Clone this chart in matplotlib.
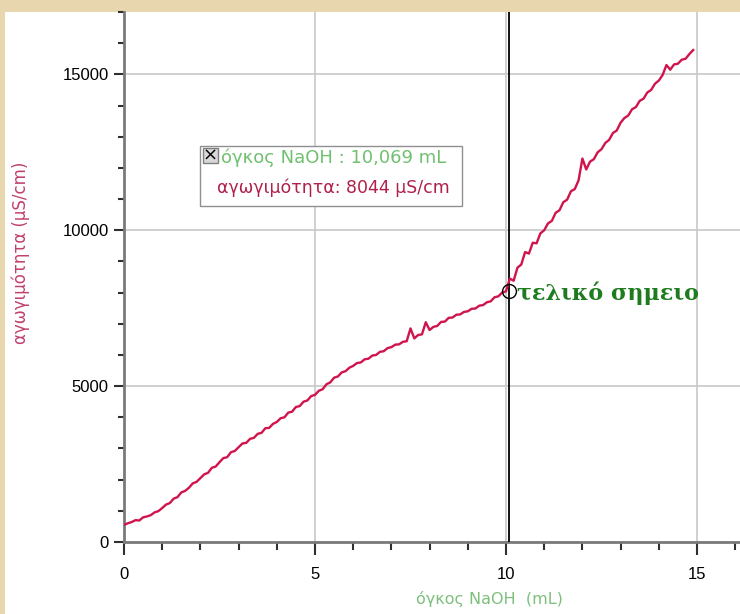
"""Conductometric titration curve: conductivity vs volume of NaOH."""

import matplotlib

matplotlib.use("Agg")
import matplotlib.pyplot as plt
import numpy as np
from matplotlib.patches import Rectangle
from matplotlib.ticker import MultipleLocator

# conductivity readings (uS/cm), one every 0.1 mL from 0.0 to 14.9 mL
conductivity = [
    550, 600, 640, 700, 690, 790, 820, 860, 950, 990,
    1090, 1200, 1250, 1390, 1440, 1590, 1640, 1740, 1880, 1930,
    2050, 2170, 2220, 2380, 2420, 2560, 2690, 2720, 2880, 2920,
    3040, 3160, 3180, 3310, 3340, 3470, 3500, 3650, 3660, 3790,
    3850, 3970, 4000, 4150, 4180, 4330, 4360, 4500, 4540, 4680,
    4720, 4850, 4900, 5060, 5120, 5270, 5310, 5440, 5480, 5590,
    5650, 5740, 5760, 5860, 5880, 5980, 6000, 6100, 6120, 6220,
    6250, 6330, 6340, 6420, 6440, 6850, 6530, 6640, 6660, 7050,
    6800, 6900, 6930, 7060, 7070, 7190, 7200, 7290, 7300, 7380,
    7400, 7480, 7490, 7580, 7600, 7690, 7720, 7850, 7880, 8000,
    8040, 8450, 8380, 8800, 8900, 9300, 9250, 9600, 9580, 9900,
    10000, 10220, 10300, 10560, 10640, 10900, 10980, 11250, 11320, 11600,
    12300, 11950, 12200, 12280, 12500, 12600, 12800, 12900, 13120, 13200,
    13450, 13600, 13680, 13880, 13950, 14150, 14220, 14420, 14500, 14700,
    14800, 14980, 15300, 15150, 15320, 15340, 15470, 15500, 15650, 15780,
]
volume = np.arange(len(conductivity)) * 0.1

end_volume = 10.069
end_cond = 8044

x_ticks = [0, 5, 10, 15]
y_ticks = [0, 5000, 10000, 15000]

W, H = 740, 614
fig = plt.figure(figsize=(W / 100, H / 100), dpi=100)
fig.patch.set_facecolor("#e8d6ae")

# white panel behind the graph
bg = fig.add_axes([5 / W, 0, 735 / W, 602 / H], zorder=-1)
bg.set_facecolor("white")
bg.set_xticks([])
bg.set_yticks([])
for s in bg.spines.values():
    s.set_visible(False)

ax = fig.add_axes([124 / W, 72 / H, 616 / W, 530 / H])
ax.patch.set_alpha(0)
ax.set_xlim(0, 616 / 38.2)
ax.set_ylim(0, 17000)

for s in ("top", "right"):
    ax.spines[s].set_visible(False)
for s in ("left", "bottom"):
    ax.spines[s].set_color("#7a7a7a")
    ax.spines[s].set_linewidth(2)

ax.set_xticks(x_ticks)
ax.set_yticks(y_ticks)
ax.xaxis.set_minor_locator(MultipleLocator(1))
ax.yaxis.set_minor_locator(MultipleLocator(1000))
ax.tick_params(which="major", length=7, width=1.5, color="#303030",
               labelsize=12, pad=4)
ax.tick_params(which="minor", length=4, width=1.5, color="#303030")
ax.tick_params(axis="x", which="major", length=9, pad=9)
ax.tick_params(axis="x", which="minor", length=6)
for lab in ax.get_xticklabels() + ax.get_yticklabels():
    lab.set_fontfamily("Liberation Sans")

ax.grid(True, which="major", color="#c8c8c8", lw=1.2)
ax.set_axisbelow(True)

ax.axvline(end_volume, color="black", lw=1.3, zorder=3)
ax.plot(volume, conductivity, color="#d0144c", lw=1.7, zorder=4)
ax.plot([end_volume], [end_cond], "o", mfc="none", mec="black", ms=10,
        mew=1, zorder=5)

ax.set_xlabel("όγκος NaOH  (mL)", color="#7cc07c", fontsize=11.5,
              family="DejaVu Sans")
ax.xaxis.set_label_coords(0.594, -0.092)
ax.set_ylabel("αγωγιμότητα (μS/cm)", color="#c04070", fontsize=12,
              family="DejaVu Sans")
ax.yaxis.set_label_coords(-0.153, 0.545)

fig.text(517 / W, 1 - 293 / H, "τελικό σημειο", color="#1e7b1e",
         fontsize=16, fontweight="bold", family="DejaVu Serif",
         va="center", ha="left")

# readout box
fig.patches.append(Rectangle((200 / W, 1 - 206 / H), 262 / W, 60 / H,
                             transform=fig.transFigure, facecolor="white",
                             edgecolor="#909090", lw=1, zorder=6))
fig.patches.append(Rectangle((203 / W, 1 - 163 / H), 15 / W, 15 / H,
                             transform=fig.transFigure, facecolor="#d8d8d8",
                             edgecolor="#808080", lw=1, zorder=7))
fig.text(210.5 / W, 1 - 155.5 / H, "×", fontsize=13, ha="center",
         va="center", color="black", family="DejaVu Sans", zorder=8)
fig.text(221 / W, 1 - 158 / H, "όγκος NaOH : 10,069 mL", color="#70c070",
         fontsize=13, family="DejaVu Sans", va="center", ha="left",
         zorder=8)
fig.text(333 / W, 1 - 188 / H, "αγωγιμότητα: 8044 μS/cm", color="#b0204a",
         fontsize=12.5, family="DejaVu Sans", va="center", ha="center",
         zorder=8)

fig.savefig("out.png", dpi=100, facecolor=fig.get_facecolor())
